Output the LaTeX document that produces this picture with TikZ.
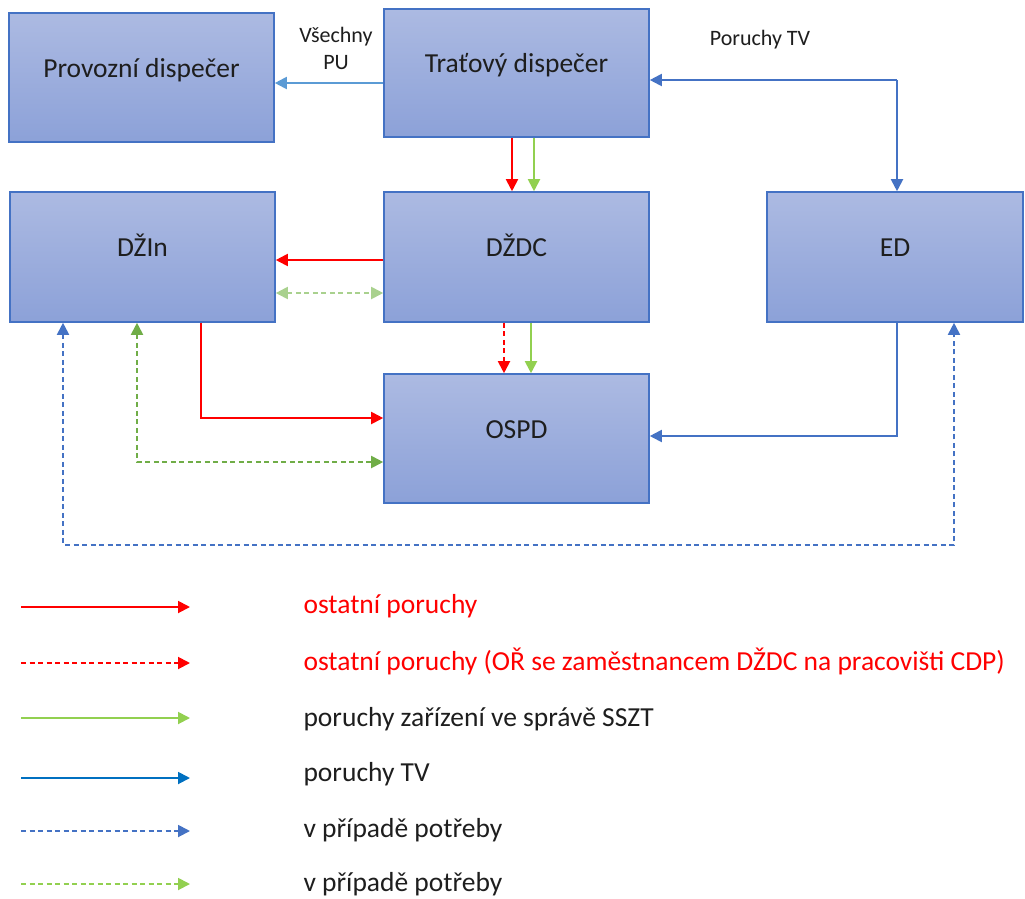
\documentclass[tikz,border=0pt]{standalone}
\usepackage{fontspec}
\setmainfont{Carlito}
\usetikzlibrary{arrows.meta}

\definecolor{boxtop}{RGB}{172,186,226}
\definecolor{boxbot}{RGB}{140,161,216}
\definecolor{boxline}{RGB}{68,114,196}
\definecolor{tvblue}{RGB}{68,114,196}
\definecolor{publue}{RGB}{91,155,213}
\definecolor{legblue}{RGB}{0,112,192}
\definecolor{okgreen}{RGB}{146,208,80}
\definecolor{palegreen}{RGB}{169,209,142}
\definecolor{darkgreen}{RGB}{112,173,71}
\definecolor{txt}{RGB}{30,30,30}

\begin{document}
\begin{tikzpicture}[
      x=1pt,y=-1pt,
      font=\fontsize{27.5}{32}\selectfont,
      box/.style={draw=boxline,line width=1.6pt,top color=boxtop,bottom color=boxbot,
        text=txt,inner sep=0pt,text height=0.7em,text depth=0.8em},
      tip/.style={-{Triangle[length=12pt,width=12pt]}},
      both/.style={{Triangle[length=12pt,width=12pt]}-{Triangle[length=12pt,width=12pt]}},
      conn/.style={line width=1.9pt},
      dashline/.style={dash pattern=on 5pt off 3.5pt},
      small/.style={font=\fontsize{22}{27}\selectfont,text=txt,align=center},
      legtext/.style={anchor=base west,text=txt},
      ]

    \fill[white] (0,0) rectangle (1025,898);
    \useasboundingbox (0,0) rectangle (1025,898);

    % Position the nodes
    \node[box,minimum width=265pt,minimum height=129pt] (prov) at (141.5,77.5) {Provozní dispečer};
    \node[box,minimum width=265pt,minimum height=128pt] (trat) at (516.5,73) {Traťový dispečer};
    \node[box,minimum width=265pt,minimum height=130pt] (dzin) at (142.5,257) {DŽIn};
    \node[box,minimum width=265pt,minimum height=130pt] (dzdc) at (516.5,257) {DŽDC};
    \node[box,minimum width=256pt,minimum height=130pt] (ed) at (895,257) {ED};
    \node[box,minimum width=265pt,minimum height=129pt] (ospd) at (516.5,438.5) {OSPD};

    \node[small] (pulabel) at (336,48) {Všechny\\PU};
    \node[small] (tvlabel) at (760,40) {Poruchy TV};
    \coordinate (tvknot) at (897,80);

    % Draw the arrows
    \draw[conn,tip,publue] ([yshift=-10pt]trat.west) -- ([yshift=-10pt]trat.west -| prov.east);
    \draw[conn,tip,tvblue] (tvknot) -- (tvknot -| trat.east);
    \draw[conn,tip,tvblue] (tvknot) -- (tvknot |- ed.north);

    \draw[conn,tip,red] ([xshift=-4.5pt]trat.south) -- ([xshift=-4.5pt]trat.south |- dzdc.north);
    \draw[conn,tip,okgreen] ([xshift=17.5pt]trat.south) -- ([xshift=17.5pt]trat.south |- dzdc.north);

    \draw[conn,tip,red] ([yshift=-3pt]dzdc.west) -- ([yshift=-3pt]dzdc.west -| dzin.east);
    \draw[conn,both,dashline,palegreen] ([yshift=-36pt]dzin.east) -- ([yshift=-36pt]dzin.east -| dzdc.west);

    \draw[conn,tip,dashline,red] ([xshift=-12.5pt]dzdc.south) -- ([xshift=-12.5pt]dzdc.south |- ospd.north);
    \draw[conn,tip,okgreen] ([xshift=14.5pt]dzdc.south) -- ([xshift=14.5pt]dzdc.south |- ospd.north);

    \draw[conn,tip,red] ([xshift=58.5pt]dzin.south) |- ([yshift=20.5pt]ospd.west);
    \draw[conn,both,dashline,darkgreen] ([xshift=-5.5pt]dzin.south) |- ([yshift=-23.5pt]ospd.west);
    \draw[conn,tip,tvblue] ([xshift=2pt]ed.south) |- ([yshift=2.5pt]ospd.east);
    \draw[conn,both,dashline,tvblue] ([xshift=-79.5pt]dzin.south) -- ++(0,222) -| ([xshift=59pt]ed.south);

    % Legend
    \coordinate (leg1) at (21,607);
    \coordinate (leg2) at (21,663);
    \coordinate (leg3) at (21,718);
    \coordinate (leg4) at (21,778);
    \coordinate (leg5) at (21,831);
    \coordinate (leg6) at (21,884);
    \draw[conn,tip,red] (leg1) -- ++(169,0);
    \draw[conn,tip,dashline,red] (leg2) -- ++(169,0);
    \draw[conn,tip,okgreen] (leg3) -- ++(169,0);
    \draw[conn,tip,legblue] (leg4) -- ++(169,0);
    \draw[conn,tip,dashline,tvblue] (leg5) -- ++(169,0);
    \draw[conn,tip,dashline,okgreen] (leg6) -- ++(169,0);

    \node[legtext,text=red] (legtxt1) at (300,613) {ostatní poruchy};
    \node[legtext,text=red] (legtxt2) at (300,670) {ostatní poruchy (OŘ se zaměstnancem DŽDC na pracovišti CDP)};
    \node[legtext] (legtxt3) at (300,726) {poruchy zařízení ve správě SSZT};
    \node[legtext] (legtxt4) at (300,781) {poruchy TV};
    \node[legtext] (legtxt5) at (300,837) {v případě potřeby};
    \node[legtext] (legtxt6) at (300,891) {v případě potřeby};

  \end{tikzpicture}
\end{document}
